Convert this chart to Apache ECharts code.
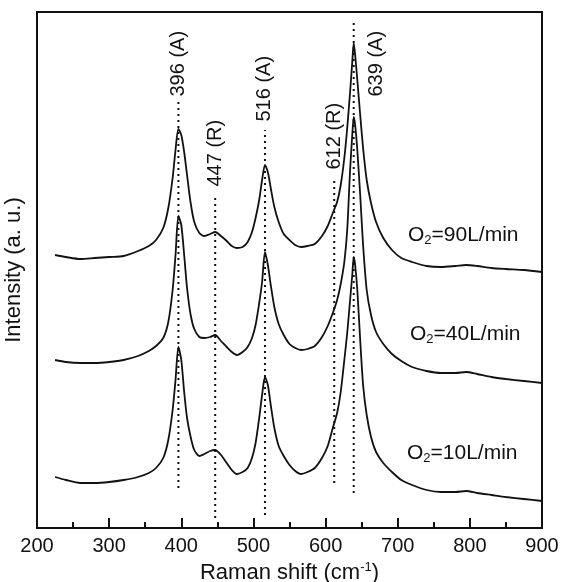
<!DOCTYPE html>
<html>
<head>
<meta charset="utf-8">
<script src="https://cdn.jsdelivr.net/npm/echarts@6/dist/echarts.min.js"></script>
<style>
  html, body { margin: 0; padding: 0; background: #fff; }
  #main { width: 562px; height: 582px; }
</style>
</head>
<body>
<div id="main"></div>
<script>
// Raman shift (cm-1), shared by the three spectra
var shift = [225, 240, 260, 280, 300, 320, 340, 355, 365, 375, 382, 388, 392, 396, 400, 404, 408, 413, 418, 425,
  432, 440, 447, 455, 463, 470, 477, 485, 492, 498, 503, 508, 512, 516, 520, 524, 529, 535, 542, 550,
  558, 566, 575, 585, 595, 603, 610, 616, 621, 626, 630, 634, 637, 639, 641, 644, 648, 652, 657, 663,
  670, 680, 692, 705, 720, 740, 760, 780, 795, 810, 830, 850, 875, 900];

// intensity (a.u.), already offset so the curves are stacked
var o2_90 = [273, 271, 269, 270, 271, 272, 277, 282, 288, 300, 320, 350, 378, 399, 393, 376, 353, 325, 306, 295,
  292, 294, 296, 292, 287, 282, 280, 281, 286, 296, 310, 328, 348, 363, 356, 340, 321, 306, 294, 288,
  283, 281, 282, 284, 292, 302, 315, 326, 343, 370, 400, 436, 466, 485, 473, 448, 413, 380, 348, 325,
  306, 290, 278, 270, 266, 262, 261, 262, 263, 262, 260, 259, 258, 256];
var o2_40 = [168, 166, 165, 165, 166, 168, 172, 177, 182, 190, 206, 238, 273, 312, 303, 273, 240, 213, 199, 191,
  190, 191, 193, 187, 181, 176, 173, 176, 181, 190, 203, 225, 246, 276, 263, 243, 221, 204, 193, 184,
  180, 178, 179, 182, 191, 202, 215, 228, 244, 266, 298, 358, 393, 411, 403, 378, 333, 283, 238, 213,
  196, 184, 174, 167, 161, 157, 155, 155, 156, 154, 151, 149, 147, 145];
var o2_10 = [51, 48, 45, 45, 46, 48, 51, 55, 60, 70, 88, 118, 148, 181, 168, 136, 110, 91, 78, 72,
  74, 77, 78, 73, 65, 58, 54, 56, 60, 70, 85, 110, 133, 151, 143, 123, 100, 82, 72, 63,
  57, 54, 56, 60, 70, 82, 100, 115, 136, 168, 195, 228, 253, 271, 263, 238, 188, 143, 113, 91,
  76, 65, 56, 48, 43, 38, 36, 36, 37, 35, 33, 31, 29, 27];

// peak markers: position, dotted line extent, label
var peakPos = [396, 447, 516, 612, 639];
var peakLow = [40, 10, 13, 45, 35];
var peakHigh = [428, 331, 398, 351, 506];
var peakNames = ['396 (A)', '447 (R)', '516 (A)', '612 (R)', '639 (A)'];

var xTicks = [200, 300, 400, 500, 600, 700, 800, 900];

var FONT = "'Liberation Sans', Arial, Helvetica, sans-serif";
var INK = '#111';

// gap between dotted line top and its label; 639 label is moved right and down
var labelGap = [3, 10, 8, 7, 0];
var labelShift = [[0, 0], [0, 0], [0, 0], [0, 0], [-75, 23]];

function pairs(ys) {
  var out = [];
  for (var i = 0; i < shift.length; i++) out.push([shift[i], ys[i]]);
  return out;
}

var series = [];
[o2_90, o2_40, o2_10].forEach(function (ys) {
  series.push({
    type: 'line',
    data: pairs(ys),
    symbol: 'none',
    smooth: 0.25,
    silent: true,
    lineStyle: { color: INK, width: 1.8 }
  });
});

for (var k = 0; k < peakPos.length; k++) {
  series.push({
    type: 'line',
    data: [[peakPos[k], peakLow[k]], [peakPos[k], peakHigh[k]]],
    symbol: 'none',
    silent: true,
    lineStyle: { color: INK, width: 2, type: [2, 4] },
    z: 1
  });
  series.push({
    type: 'scatter',
    data: [[peakPos[k], peakHigh[k]]],
    symbolSize: 1,
    itemStyle: { color: 'rgba(0,0,0,0)', opacity: 1 },
    silent: true,
    label: {
      show: true,
      formatter: peakNames[k],
      rotate: 90,
      position: 'top',
      distance: labelGap[k],
      offset: labelShift[k],
      align: 'left',
      verticalAlign: 'middle',
      fontSize: 20,
      fontFamily: FONT,
      color: INK,
      opacity: 1
    }
  });
}

var richO2 = {
  n: { fontSize: 21, fontFamily: FONT, lineHeight: 22, verticalAlign: 'top', fill: INK },
  s: { fontSize: 13, fontFamily: FONT, lineHeight: 13, padding: [14, 0, 0, 0], verticalAlign: 'bottom', fill: INK }
};

function o2Label(txt, left, top) {
  return {
    type: 'text', left: left, top: top, silent: true,
    style: { text: '{n|O}{s|2}{n|=' + txt + '}', rich: richO2, fill: INK }
  };
}

var chart = echarts.init(document.getElementById('main'));
chart.setOption({
  backgroundColor: '#fff',
  animation: false,
  grid: {
    left: 37, right: 20, top: 12, bottom: 54,
    outerBoundsMode: 'none', containLabel: false,
    show: true, borderColor: INK, borderWidth: 2
  },
  xAxis: {
    type: 'value', min: 200, max: 900, interval: 100,
    axisLine: { lineStyle: { color: INK, width: 2 } },
    axisTick: { inside: true, length: 10, lineStyle: { color: INK, width: 2 } },
    minorTick: { show: true, splitNumber: 2, length: 6, lineStyle: { color: INK, width: 2 } },
    splitLine: { show: false },
    axisLabel: {
      fontSize: 20, fontFamily: FONT, color: INK, margin: 8,
      formatter: function (v) { return xTicks.indexOf(v) >= 0 ? String(v) : ''; }
    },
    name: '{a|Raman shift (cm}{b|-1}{a|)}',
    nameLocation: 'middle',
    nameGap: 30,
    nameTextStyle: {
      rich: {
        a: { fontSize: 22, fontFamily: FONT, color: INK, lineHeight: 24 },
        b: { fontSize: 13, fontFamily: FONT, color: INK, lineHeight: 13, verticalAlign: 'top' }
      }
    }
  },
  yAxis: {
    type: 'value', min: 0, max: 516,
    axisLine: { show: true, lineStyle: { color: INK, width: 2 } },
    axisTick: { show: false },
    axisLabel: { show: false },
    splitLine: { show: false },
    name: 'Intensity (a. u.)',
    nameLocation: 'middle',
    nameGap: 12,
    nameTextStyle: { fontSize: 22, fontFamily: FONT, color: INK }
  },
  graphic: [
    o2Label('90L/min', 408, 220),
    o2Label('40L/min', 410, 319),
    o2Label('10L/min', 407, 438)
  ],
  series: series
});
</script>
</body>
</html>
